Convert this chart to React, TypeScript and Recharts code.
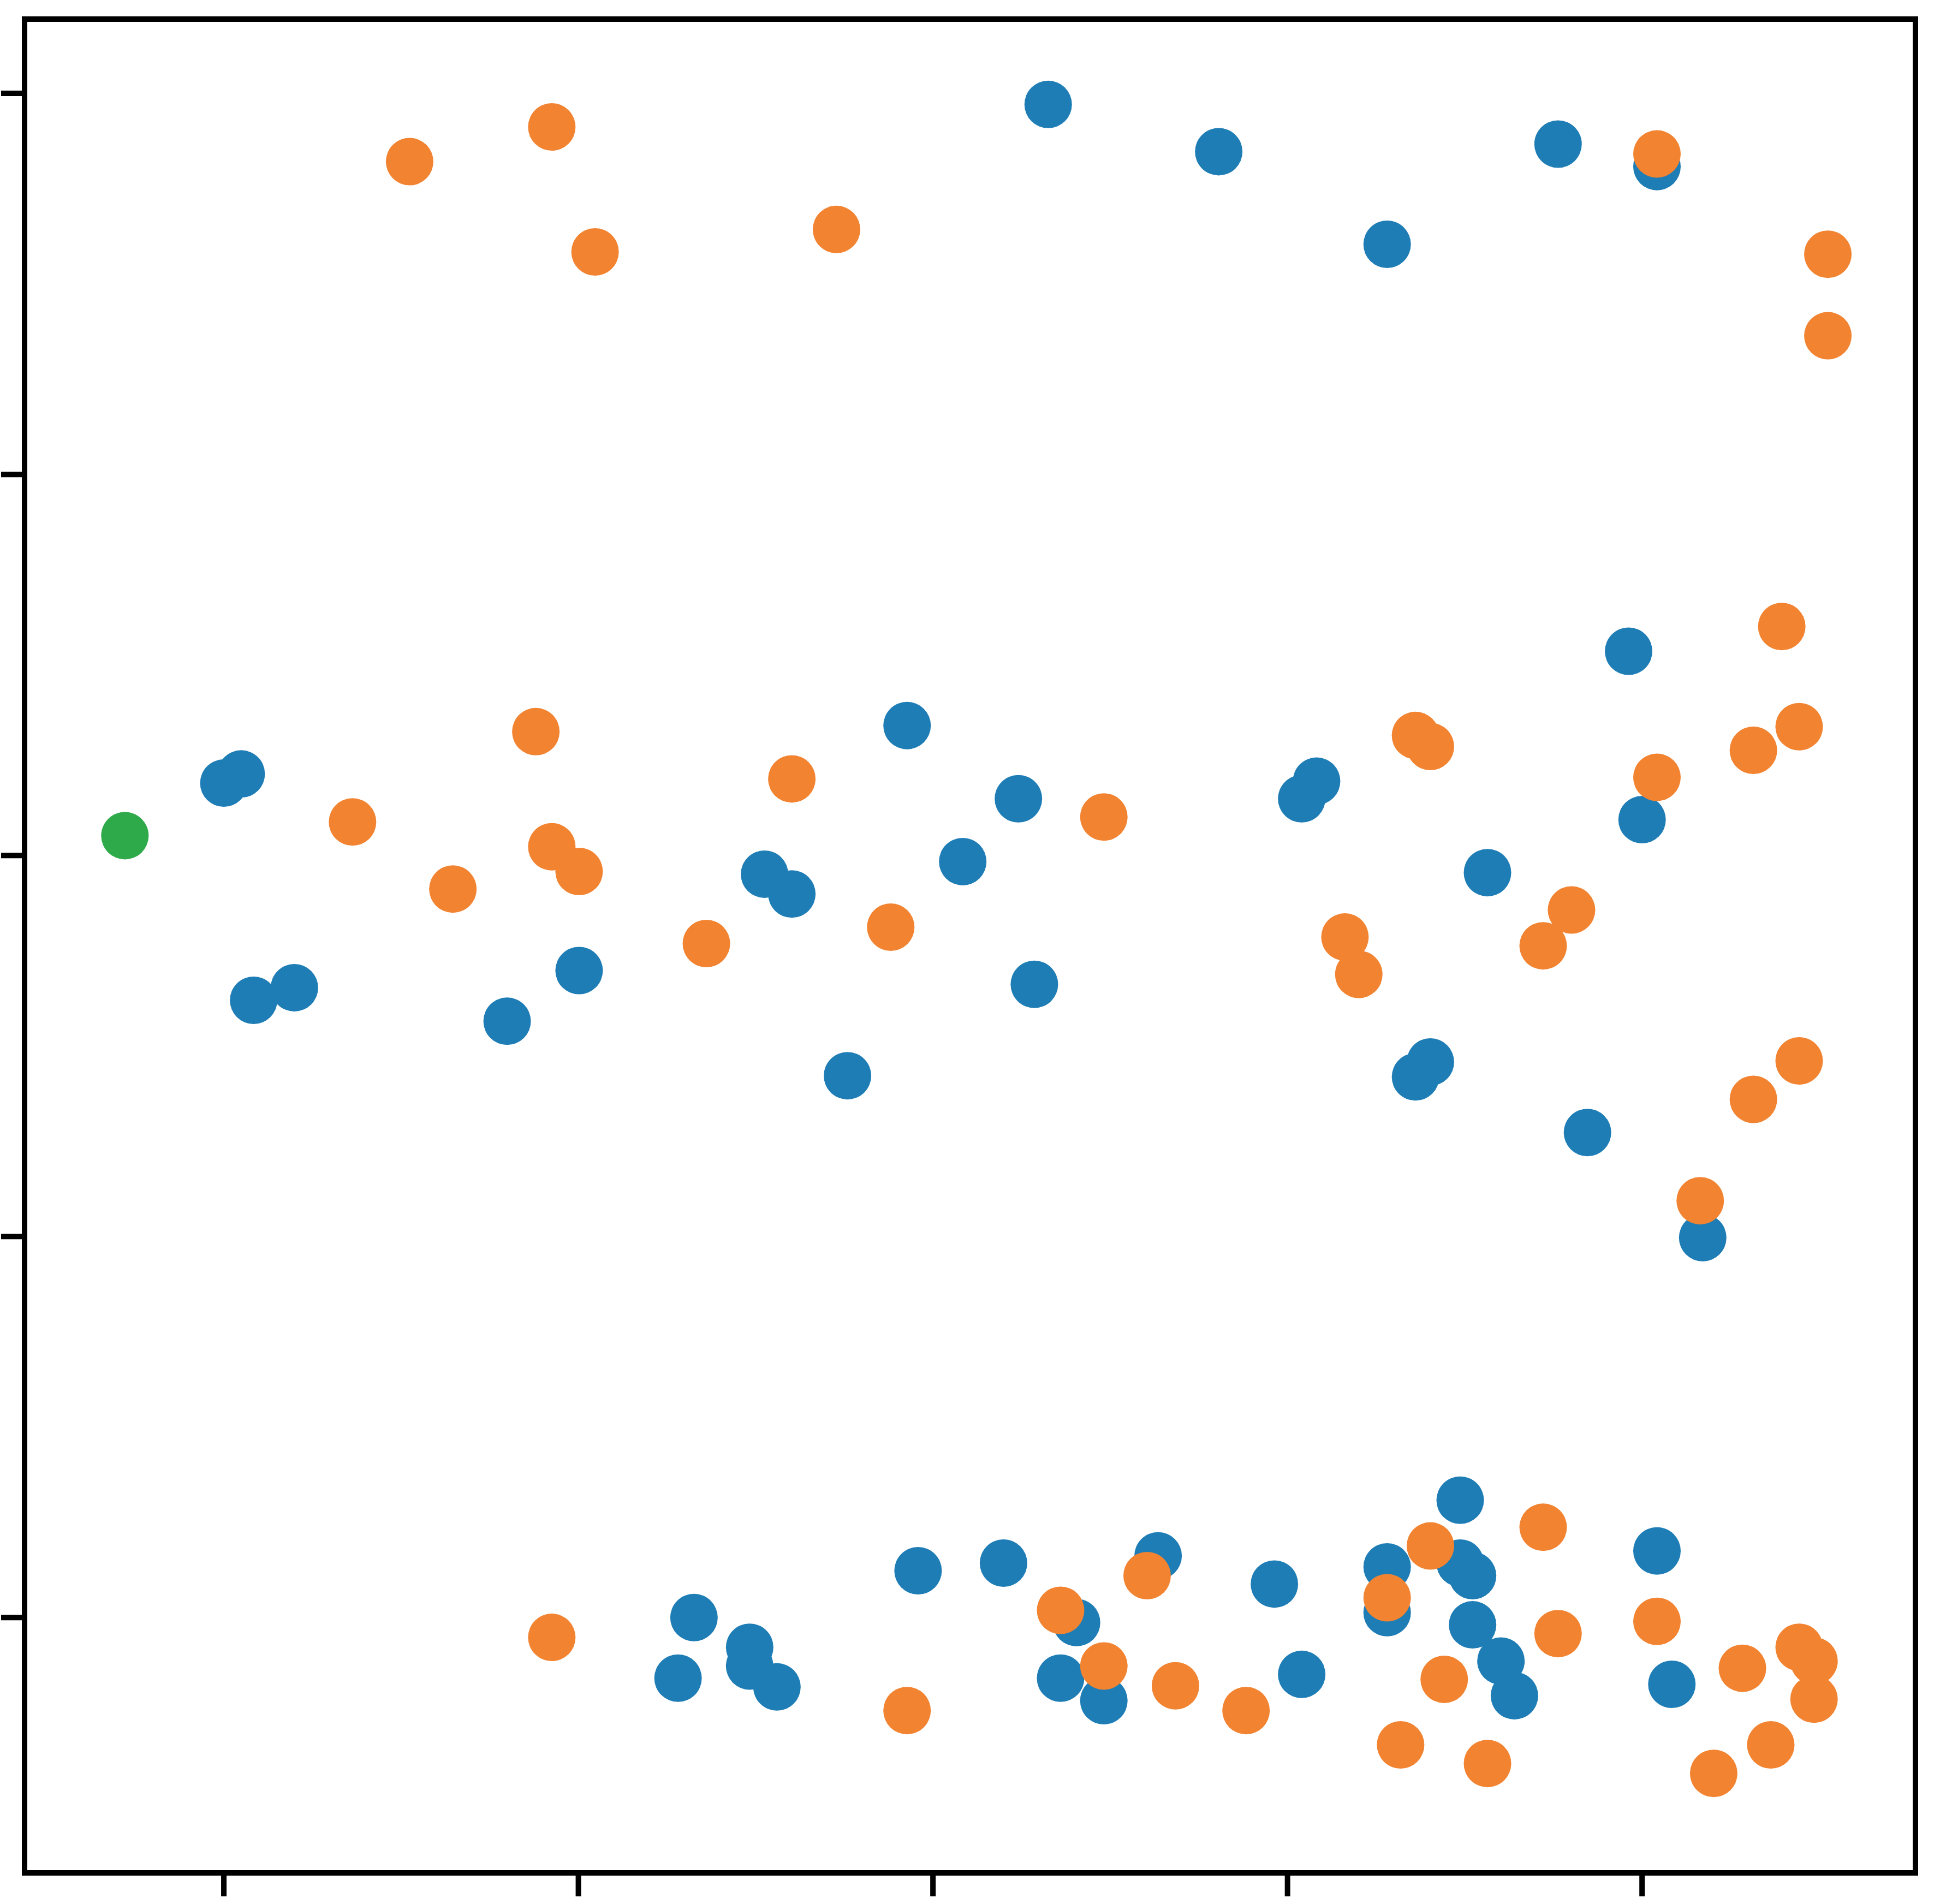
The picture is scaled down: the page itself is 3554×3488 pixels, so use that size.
import React from "react";
import { ScatterChart, Scatter, XAxis, YAxis, ReferenceArea } from "recharts";

const xTicks = [0, 1, 2, 3, 4];
const yTicks = [0, 1, 2, 3, 4];

const greenX = [-0.279];
const greenY = [2.052];

const blueX = [
  0.0, 0.049, 0.084, 0.199, 0.799, 1.002, 1.525, 1.602, 1.759, 1.927, 2.084, 2.241, 2.286, 2.325,
  2.806, 3.04, 3.082, 3.281, 3.361, 3.403, 3.564, 3.763, 3.846, 3.962, 4.0, 4.042, 4.171,
  1.326, 1.281, 1.483, 1.483, 1.56, 1.958, 2.199, 2.36, 2.405, 2.482, 2.635, 2.963, 3.04, 3.281,
  3.281, 3.487, 3.487, 3.522, 3.522, 3.602, 3.64, 4.042, 4.084,
];
const blueY = [
  2.19, 2.214, 1.62, 1.653, 1.565, 1.698, 1.951, 1.899, 1.422, 2.341, 1.984, 2.149, 1.662, 3.971,
  3.847, 2.149, 2.195, 3.604, 1.419, 1.458, 1.955, 3.867, 1.273, 2.536, 2.094, 3.808, 0.997,
  0.0, -0.159, -0.078, -0.127, -0.182, 0.123, 0.143, -0.159, -0.013, -0.218, 0.162, 0.088, -0.149, 0.133,
  0.013, 0.308, 0.143, 0.11, -0.019, -0.114, -0.205, 0.175, -0.175,
];

const orangeX = [
  0.524, 0.925, 1.047, 1.728, 4.042, 4.524, 4.524, 0.363, 0.646, 0.88, 0.925, 1.002, 1.361, 1.602,
  1.881, 2.482, 3.162, 3.201, 3.361, 3.403, 3.721, 3.801, 4.042, 4.314, 4.394, 4.443, 4.443, 4.314,
  4.164, 0.925, 1.927, 2.36, 2.482, 2.604, 2.684, 2.883, 3.281, 3.319, 3.403, 3.442, 3.564, 3.721,
  3.763, 4.042, 4.202, 4.283, 4.363, 4.443, 4.485, 4.485,
];
const orangeY = [
  3.821, 3.912, 3.584, 3.643, 3.841, 3.578, 3.364, 2.088, 1.912, 2.325, 2.023, 1.958, 1.769, 2.201,
  1.812, 2.101, 1.786, 1.688, 2.315, 2.286, 1.763, 1.857, 2.205, 2.276, 2.601, 2.338, 1.461, 1.36,
  1.094, -0.052, -0.244, 0.019, -0.127, 0.11, -0.179, -0.244, 0.052, -0.334, 0.188, -0.162, -0.383, 0.237,
  -0.042, -0.01, -0.409, -0.133, -0.334, -0.078, -0.114, -0.214,
];

const X_DOMAIN: [number, number] = [-0.562, 4.771];
const Y_DOMAIN: [number, number] = [-0.67, 4.195];

const toPoints = (xs: number[], ys: number[]) => xs.map((x, i) => ({ x, y: ys[i] }));

const greenData = toPoints(greenX, greenY);
const blueData = toPoints(blueX, blueY);
const orangeData = toPoints(orangeX, orangeY);

const makeDot = (color: string) => (props: any) => (
  <circle cx={props.cx} cy={props.cy} r={43.5} fill={color} />
);

const EmptyTick = () => <g />;

export default function App() {
  return (
    <div style={{ position: "absolute", left: 0, top: 0, background: "#fff" }}>
      <ScatterChart
        width={3554}
        height={3488}
        margin={{ top: 35, right: 45, bottom: 0, left: 0 }}
      >
        <XAxis
          type="number"
          dataKey="x"
          domain={X_DOMAIN}
          ticks={xTicks}
          allowDataOverflow
          height={57}
          tick={EmptyTick}
          tickSize={43}
          axisLine={{ stroke: "#000", strokeWidth: 10 }}
          tickLine={{ stroke: "#000", strokeWidth: 10 }}
        />
        <YAxis
          type="number"
          dataKey="y"
          domain={Y_DOMAIN}
          ticks={yTicks}
          allowDataOverflow
          width={45}
          tick={EmptyTick}
          tickSize={43}
          axisLine={{ stroke: "#000", strokeWidth: 10 }}
          tickLine={{ stroke: "#000", strokeWidth: 10 }}
        />
        <ReferenceArea
          x1={X_DOMAIN[0]}
          x2={X_DOMAIN[1]}
          y1={Y_DOMAIN[0]}
          y2={Y_DOMAIN[1]}
          fill="none"
          fillOpacity={0}
          stroke="#000"
          strokeWidth={10}
          strokeOpacity={1}
          ifOverflow="visible"
        />
        <Scatter data={greenData} isAnimationActive={false} shape={makeDot("#2eaa4b")} />
        <Scatter data={blueData} isAnimationActive={false} shape={makeDot("#1f7db6")} />
        <Scatter data={orangeData} isAnimationActive={false} shape={makeDot("#f28331")} />
      </ScatterChart>
    </div>
  );
}
